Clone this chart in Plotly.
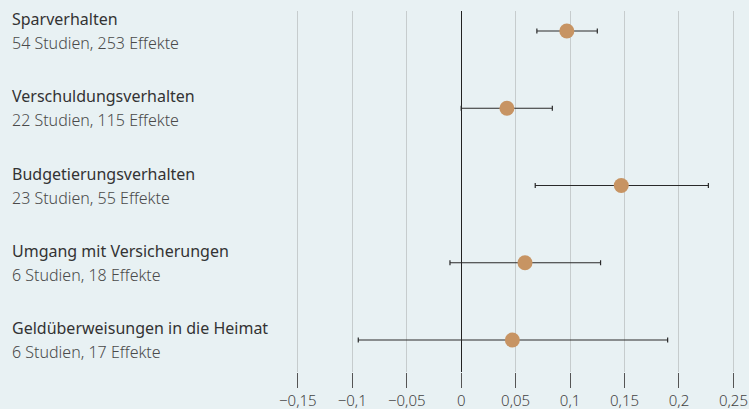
import plotly.graph_objects as go

categories = ["Sparverhalten", "Verschuldungsverhalten", "Budgetierungsverhalten",
              "Umgang mit Versicherungen", "Geldüberweisungen in die Heimat"]
subtitles = ["54 Studien, 253 Effekte", "22 Studien, 115 Effekte", "23 Studien, 55 Effekte",
             "6 Studien, 18 Effekte", "6 Studien, 17 Effekte"]
effects = [0.097, 0.042, 0.147, 0.0586, 0.047]
ci_low = [0.0695, 0.0, 0.068, -0.0103, -0.0945]
ci_high = [0.125, 0.0837, 0.227, 0.128, 0.1896]
tick_vals = [-0.15, -0.1, -0.05, 0, 0.05, 0.1, 0.15, 0.2, 0.25]
tick_text = ["\u22120,15", "\u22120,1", "\u22120,05", "0", "0,05", "0,1", "0,15", "0,2", "0,25"]

rows = list(range(len(categories)))
BG = "#e8f1f3"

fig = go.Figure()
fig.add_trace(go.Scatter(
    x=effects, y=rows, mode="markers",
    marker=dict(size=15, color="#c79463", line=dict(width=0)),
    error_x=dict(type="data", symmetric=False,
                 array=[h - e for h, e in zip(ci_high, effects)],
                 arrayminus=[e - l for e, l in zip(effects, ci_low)],
                 color="#2a2a2a", thickness=1.2, width=2.5),
    showlegend=False, hoverinfo="skip",
))

for i, (c, s) in enumerate(zip(categories, subtitles)):
    fig.add_annotation(x=10 / 749, xref="paper", y=i, yref="y", yshift=12,
                       text=c, showarrow=False, xanchor="left", yanchor="middle",
                       font=dict(family="Noto Sans", size=16, color="#333333"))
    fig.add_annotation(x=10 / 749, xref="paper", y=i, yref="y", yshift=-12,
                       text=s, showarrow=False, xanchor="left", yanchor="middle",
                       font=dict(family="Noto Sans", size=16, color="#4a4a4a", weight=300))

fig.update_layout(
    width=749, height=409,
    margin=dict(l=0, r=0, t=11, b=37),
    paper_bgcolor=BG, plot_bgcolor=BG,
    xaxis=dict(range=[-0.4235, 0.2643], tickvals=tick_vals, ticktext=tick_text,
               automargin=False,
               showgrid=True, gridcolor="#c6cccd", gridwidth=1,
               zeroline=True, zerolinecolor="#222222", zerolinewidth=1.2,
               ticks="outside", ticklen=15, tickcolor="#555555", tickwidth=1,
               showline=False,
               tickfont=dict(family="Noto Sans", size=15, color="#444444", weight=300)),
    yaxis=dict(range=[4.414, -0.259], showgrid=False, zeroline=False,
               automargin=False, showticklabels=False, ticks=""),
)

fig.write_html("out.html", config={"displayModeBar": False},
               post_script="document.body.style.margin='0px';document.body.style.overflow='hidden';")
